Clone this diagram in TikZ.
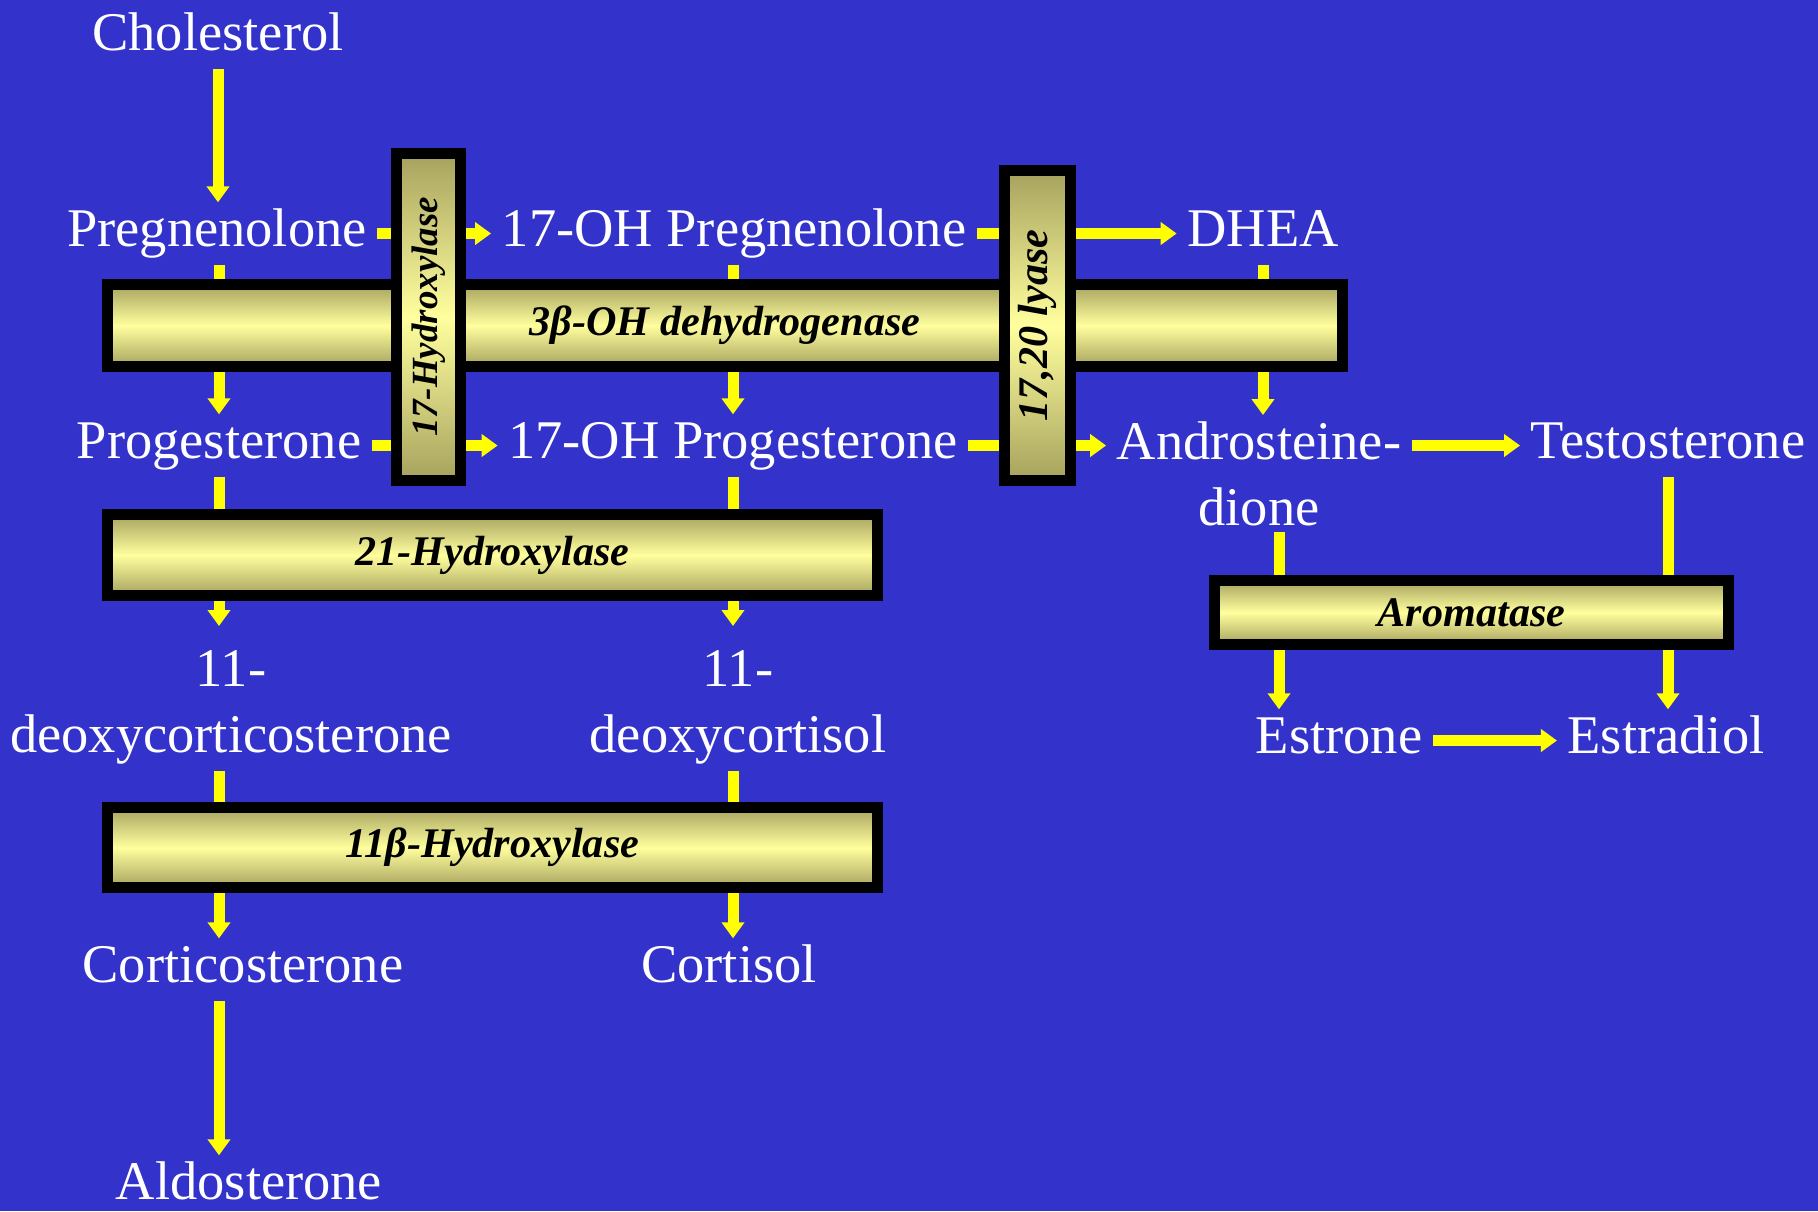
\documentclass[tikz,border=0pt]{standalone}
\usepackage{fontspec}
\setmainfont{Liberation Serif}
\usetikzlibrary{arrows.meta}
\definecolor{bgblue}{RGB}{51,51,204}
\definecolor{lineyellow}{RGB}{255,255,0}
\definecolor{enzdark}{RGB}{166,162,94}
\definecolor{enzlight}{RGB}{255,255,158}
\tikzset{
  chem/.style={text=white, font=\fontsize{15.5}{18.7}\selectfont, inner xsep=.1cm, inner ysep=.06cm, text height=.37cm, text depth=.12cm, anchor=base},
  chemtwo/.style={text=white, font=\fontsize{15.5}{18.7}\selectfont, inner xsep=.1cm, inner ysep=.06cm, align=center, anchor=north},
  flow/.style={draw=lineyellow, line width=.11cm, -{Triangle[width=.22cm,length=.16cm]}},
  enzyme/.style={draw=black, line width=.11cm, top color=enzdark, bottom color=enzdark, middle color=enzlight, inner sep=0pt, font=\bfseries\itshape\fontsize{12}{14}\selectfont}
}
\begin{document}
\begin{tikzpicture}
\useasboundingbox (0,0) rectangle (18.18,-12.11);
\fill[bgblue] (0,0) rectangle (18.18,-12.11);

\node[chem] (chol) at (2.18,-.50) {Cholesterol};
\node[chem] (preg) at (2.17,-2.46) {Pregnenolone};
\node[chem] (ohpreg) at (7.34,-2.46) {17-OH Pregnenolone};
\node[chem] (dhea) at (12.63,-2.46) {DHEA};
\node[chem] (prog) at (2.19,-4.58) {Progesterone};
\node[chem] (ohprog) at (7.33,-4.58) {17-OH Progesterone};
\node[chemtwo] (andro) at (12.59,-4.15) {Androsteine-\\dione};
\node[chem] (testo) at (16.68,-4.58) {Testosterone};
\node[chemtwo] (doc) at (2.31,-6.44) {11-\\deoxycorticosterone};
\node[chemtwo] (dcl) at (7.38,-6.44) {11-\\deoxycortisol};
\node[chem] (estrone) at (13.39,-7.53) {Estrone};
\node[chem] (estradiol) at (16.66,-7.53) {Estradiol};
\node[chem] (cortico) at (2.43,-9.82) {Corticosterone};
\node[chem] (cortisol) at (7.29,-9.82) {Cortisol};
\node[chem] (aldo) at (2.49,-11.99) {Aldosterone};
\coordinate (dionefoot) at ([xshift=.2cm]andro.south);

\draw[flow] (chol.south) -- (chol.south |- preg.north);
\draw[flow] (prog.north |- preg.south) -- (prog.north);
\draw[flow] (preg.east) -- (ohpreg.west);
\draw[flow] (ohpreg.east) -- (dhea.west);
\draw[flow] (ohprog.north |- ohpreg.south) -- (ohprog.north);
\draw[flow] (dhea.south) -- (dhea.south |- andro.north);
\draw[flow] (prog.east) -- (ohprog.west);
\draw[flow] (ohprog.east) -- (ohprog.east -| andro.west);
\draw[flow] (andro.east |- testo.west) -- (testo.west);
\draw[flow, shorten >=.18cm] (prog.south) -- (prog.south |- doc.north);
\draw[flow, shorten >=.18cm] (ohprog.south) -- (ohprog.south |- dcl.north);
\draw[flow] (prog.south |- doc.south) -- (prog.south |- cortico.north);
\draw[flow] (ohprog.south |- dcl.south) -- (ohprog.south |- cortisol.north);
\draw[flow] (prog.south |- cortico.south) -- (prog.south |- aldo.north);
\draw[flow] (dionefoot) -- (dionefoot |- estrone.north);
\draw[flow] (testo.south) -- (testo.south |- estradiol.north);
\draw[flow] (estrone.east) -- (estradiol.west);

\node[enzyme, minimum width=12.35cm, minimum height=.82cm] (dehyd) at (7.25,-3.255) {\raisebox{-.6ex}{3β-OH dehydrogenase}};
\node[enzyme, minimum width=7.70cm, minimum height=.81cm] (hyd21) at (4.925,-5.55) {21-Hydroxylase};
\node[enzyme, minimum width=7.70cm, minimum height=.80cm] (hyd11) at (4.925,-8.475) {11β-Hydroxylase};
\node[enzyme, minimum width=5.14cm, minimum height=.64cm] (arom) at (14.715,-6.125) {Aromatase};
\node[enzyme, minimum width=.64cm, minimum height=3.27cm] (hyd17) at (4.285,-3.17) {\rotatebox{90}{\fontsize{10.5}{12}\selectfont 17-Hydroxylase}};
\node[enzyme, minimum width=.66cm, minimum height=3.10cm] (lyase) at (10.375,-3.255) {\rotatebox{90}{17,20 lyase}};
\end{tikzpicture}
\end{document}
